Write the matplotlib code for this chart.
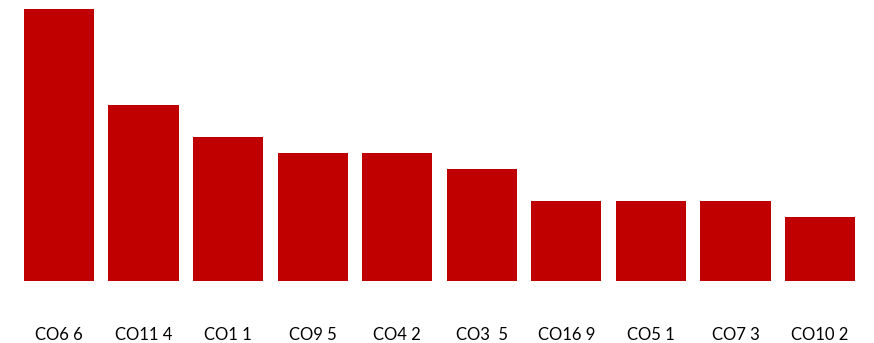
import matplotlib
matplotlib.use("Agg")
import matplotlib.pyplot as plt

categories = ["CO6 6", "CO11 4", "CO1 1", "CO9 5", "CO4 2", "CO3  5", "CO16 9", "CO5 1", "CO7 3", "CO10 2"]
values = [17, 11, 9, 8, 8, 7, 5, 5, 5, 4]

plt.rcParams['font.family'] = ['Lato', 'DejaVu Sans']

fig = plt.figure(figsize=(8.74, 3.43), dpi=100)
unit = 84.56
W, H = 874, 343
left_px = 59 - 0.6 * unit
right_px = 59 + 9.6 * unit
ax = fig.add_axes([left_px / W, (H - 281) / H, (right_px - left_px) / W, 272 / H])
x = list(range(len(categories)))
ax.bar(x, values, width=0.83, color="#C00000")
ax.set_xlim(-0.6, 9.6)
ax.set_ylim(0, 17)
ax.set_xticks(x)
ax.set_xticklabels(categories, fontsize=12, color="#000000")
ax.tick_params(axis='x', length=0, pad=33)
ax.set_yticks([])
for s in ax.spines.values():
    s.set_visible(False)
fig.savefig("out.png", dpi=100)
